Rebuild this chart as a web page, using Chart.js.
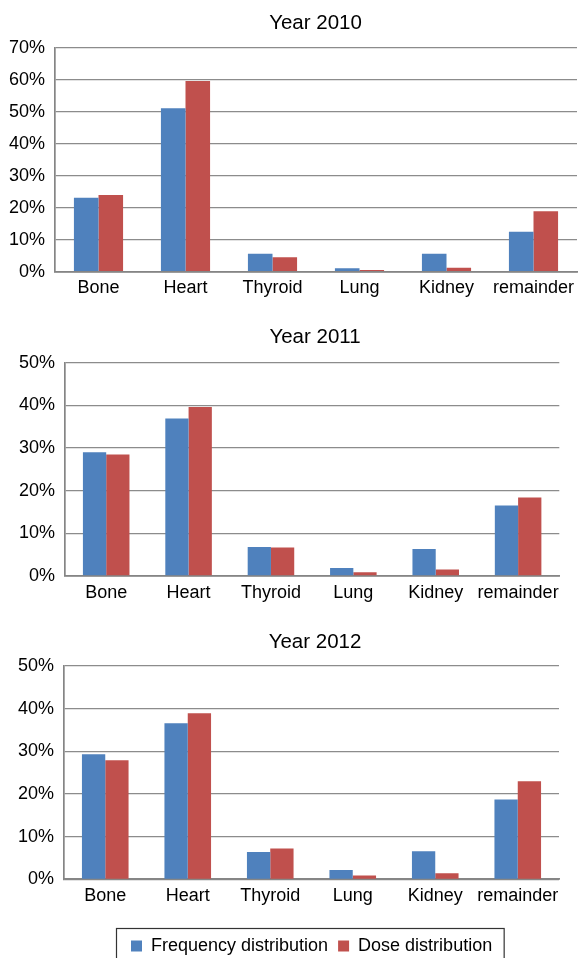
<!DOCTYPE html>
<html>
<head>
<meta charset="utf-8">
<script src="https://cdn.jsdelivr.net/npm/chart.js@4.4.1/dist/chart.umd.min.js"></script>
<style>
  html, body { margin: 0; padding: 0; background: #fff; width: 585px; height: 958px; overflow: hidden; }
  canvas { position: absolute; left: 0; }
</style>
</head>
<body>
<canvas id="c2010" width="585" height="310" style="top:0px"></canvas>
<canvas id="c2011" width="585" height="310" style="top:310px"></canvas>
<canvas id="c2012" width="585" height="345" style="top:620px"></canvas>
<script>
// ---- data ----
const categories = ['Bone', 'Heart', 'Thyroid', 'Lung', 'Kidney', 'remainder'];
const seriesNames = ['Frequency distribution', 'Dose distribution'];
const titles = ['Year 2010', 'Year 2011', 'Year 2012'];
const freq2010 = [23.1, 51.1, 5.6, 1.1, 5.6, 12.5];
const dose2010 = [24.0, 59.6, 4.5, 0.5, 1.2, 18.9];
const freq2011 = [29.0, 36.9, 6.8, 1.9, 6.3, 16.5];
const dose2011 = [28.5, 39.6, 6.7, 0.9, 1.5, 18.4];
const freq2012 = [29.3, 36.6, 6.4, 2.2, 6.6, 18.7];
const dose2012 = [27.9, 38.9, 7.2, 0.9, 1.4, 23.0];
const yMax = [70, 50, 50];

// ---- styling ----
Chart.defaults.font.family = "'Liberation Sans', Arial, Helvetica, sans-serif";
Chart.defaults.font.size = 18;
Chart.defaults.color = '#000';

const BLUE = '#4F81BD';
const RED = '#C0504D';

function makeChart(id, idx, freq, dose, geom) {
  const plugins = [{
    id: 'titlePlace',
    afterLayout(chart) {
      const t = chart.titleBlock;
      if (!t) return;
      const d = geom.titleCenter - (t.left + t.right) / 2;
      t.left += d; t.right += d;
    }
  }];
  const showLegend = !!geom.legend;
  if (showLegend) {
    plugins.push({
      id: 'legendPlace',
      afterLayout(chart) {
        const lg = chart.legend;
        const d = geom.legendLeft - lg.left;
        lg.left += d; lg.right += d;
      },
      afterDraw(chart) {
        const lg = chart.legend;
        const hb = lg.legendHitBoxes;
        if (!hb || !hb.length) return;
        const first = hb[0], last = hb[hb.length - 1];
        const ctx = chart.ctx;
        ctx.save();
        ctx.strokeStyle = '#333';
        ctx.lineWidth = 1.2;
        const x0 = first.left - 14.5;
        const x1 = last.left + last.width + 12;
        const y0 = lg.top + 1.5;
        const y1 = lg.bottom + 10;
        ctx.strokeRect(x0, y0, x1 - x0, y1 - y0);
        ctx.restore();
      }
    });
  }
  return new Chart(document.getElementById(id), {
    type: 'bar',
    data: {
      labels: categories,
      datasets: [
        { label: seriesNames[0], data: freq, backgroundColor: BLUE, borderWidth: 0,
          categoryPercentage: 0.565, barPercentage: 1.0 },
        { label: seriesNames[1], data: dose, backgroundColor: RED, borderWidth: 0,
          categoryPercentage: 0.565, barPercentage: 1.0 }
      ]
    },
    options: {
      responsive: false,
      animation: false,
      layout: { padding: { left: 0, right: geom.right, top: 0, bottom: 0 } },
      plugins: {
        title: {
          display: true,
          text: titles[idx],
          color: '#000',
          font: { size: 20.5, weight: 'normal' },
          padding: { top: geom.titleTop, bottom: geom.titleBottom }
        },
        legend: {
          display: showLegend,
          position: 'bottom',
          align: 'start',
          labels: { boxWidth: 11, boxHeight: 11, padding: 10, color: '#000', font: { size: 18 } }
        },
        tooltip: { enabled: false }
      },
      scales: {
        x: {
          grid: { display: false, drawTicks: false },
          border: { display: true, color: '#858585', width: 1.7 },
          ticks: { padding: 6, color: '#000', font: { size: 18 }, maxRotation: 0, autoSkip: false },
          afterFit(scale) { scale.height = geom.xHeight; }
        },
        y: {
          min: 0, max: yMax[idx],
          grid: { color: '#8c8c8c', lineWidth: 1.3, drawTicks: false },
          border: { display: true, color: '#858585', width: 1.7 },
          ticks: { stepSize: 10, padding: 10, color: '#000', font: { size: 18 },
                   callback: v => v + '%' },
          afterFit(scale) { scale.width = geom.yWidth; }
        }
      }
    },
    plugins
  });
}

makeChart('c2010', 0, freq2010, dose2010,
  { right: 8, titleTop: 11.4, titleBottom: 11.7, xHeight: 38.3, yWidth: 55, titleCenter: 315.5 });
makeChart('c2011', 1, freq2011, dose2011,
  { right: 25.7, titleTop: 15.4, titleBottom: 12.7, xHeight: 44, yWidth: 65, titleCenter: 315 });
makeChart('c2012', 2, freq2012, dose2012,
  { right: 26, titleTop: 10.4, titleBottom: 11, xHeight: 47.7, yWidth: 64, titleCenter: 315,
    legend: true, legendLeft: 121 });
</script>
</body>
</html>
